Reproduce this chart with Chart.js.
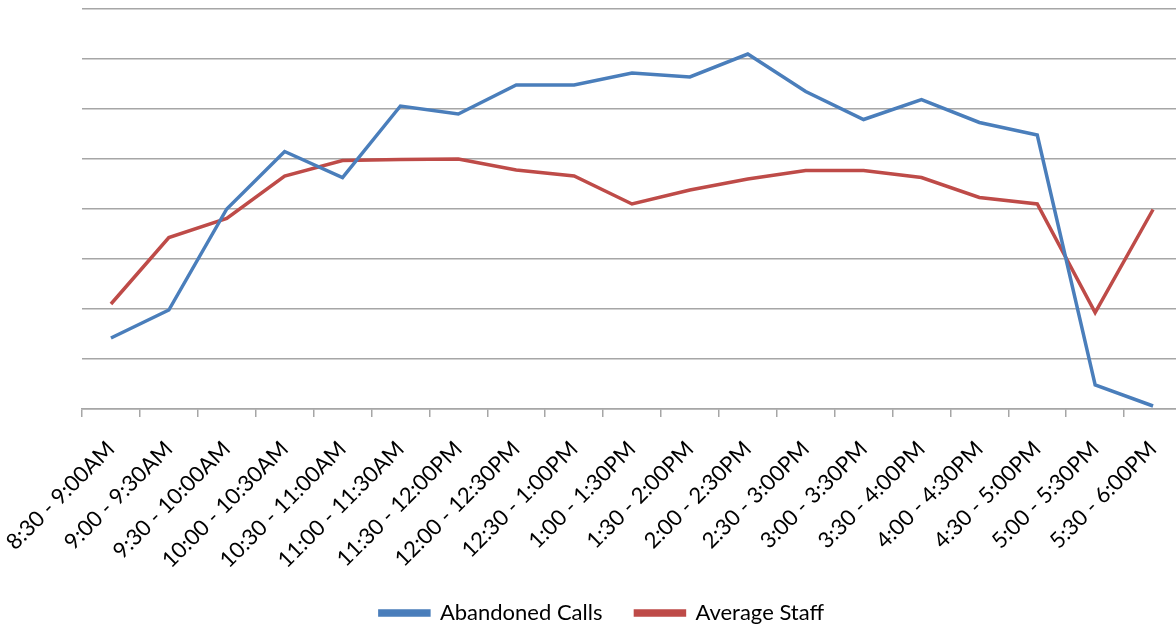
<!DOCTYPE html>
<html>
<head>
<meta charset="utf-8">
<script src="https://cdn.jsdelivr.net/npm/chart.js@4/dist/chart.umd.min.js"></script>
<style>
  html, body { margin: 0; padding: 0; background: #fff; overflow: hidden; }
  #wrap { position: absolute; left: 0; top: 0; width: 1182px; height: 631px; }
</style>
</head>
<body>
<div id="wrap"><canvas id="chart"></canvas></div>
<script>
const timeSlots = [
    '8:30 - 9:00AM', '9:00 - 9:30AM', '9:30 - 10:00AM', '10:00 - 10:30AM',
    '10:30 - 11:00AM', '11:00 - 11:30AM', '11:30 - 12:00PM', '12:00 - 12:30PM',
    '12:30 - 1:00PM', '1:00 - 1:30PM', '1:30 - 2:00PM', '2:00 - 2:30PM',
    '2:30 - 3:00PM', '3:00 - 3:30PM', '3:30 - 4:00PM', '4:00 - 4:30PM',
    '4:30 - 5:00PM', '5:00 - 5:30PM', '5:30 - 6:00PM'
];
const abandonedCalls = [14.2, 19.8, 40, 51.5, 46.3, 60.6, 59, 64.8, 64.8, 67.2,
    66.4, 71, 63.5, 57.9, 61.9, 57.3, 54.8, 4.8, 0.6];
const averageStaff = [21, 34.3, 38.1, 46.6, 49.7, 49.9, 50, 47.8, 46.6, 41,
    43.8, 46, 47.7, 47.7, 46.3, 42.3, 41, 19.3, 39.9];

const gridGray = '#a6a6a6';
const labelFont = { family: 'Lato, "Open Sans", sans-serif', size: 22 };

// legend isn't centred on the canvas in the original, and the long
// rotated labels need more room than the x box gets
const layoutTweaks = {
    id: 'layoutTweaks',
    afterLayout(chart) {
        const lg = chart.legend;
        lg.left += 11; lg.right += 11;
        lg.top += 3; lg.bottom += 3;
        chart.scales.x.bottom += 40;
    }
};

const ctx = document.getElementById('chart').getContext('2d');
const chart = new Chart(ctx, {
    type: 'line',
    data: {
        labels: timeSlots,
        datasets: [{
            label: 'Abandoned Calls',
            data: abandonedCalls,
            borderColor: '#4a7ebb',
            backgroundColor: '#4a7ebb',
            borderWidth: 3.5,
            pointRadius: 0,
            tension: 0
        }, {
            label: 'Average Staff',
            data: averageStaff,
            borderColor: '#be4b48',
            backgroundColor: '#be4b48',
            borderWidth: 3.5,
            pointRadius: 0,
            tension: 0
        }]
    },
    options: {
        responsive: true,
        maintainAspectRatio: false,
        animation: false,
        layout: { padding: { top: 9, right: 0, bottom: 0, left: 0 } },
        plugins: {
            tooltip: { enabled: false },
            legend: {
                position: 'bottom',
                labels: {
                    font: labelFont,
                    color: '#000',
                    boxWidth: 49,
                    boxHeight: 4,
                    padding: 33
                }
            }
        },
        scales: {
            x: {
                offset: true,
                grid: {
                    offset: true,
                    drawOnChartArea: false,
                    color: gridGray,
                    lineWidth: 1.5,
                    tickLength: 8
                },
                border: { color: gridGray, width: 1.5 },
                ticks: {
                    font: labelFont,
                    color: '#000',
                    minRotation: 45,
                    maxRotation: 45,
                    autoSkip: false,
                    padding: 19
                },
                afterFit(scale) {
                    scale.height = 157;
                    scale.paddingLeft = 0;
                    scale.paddingRight = 0;
                }
            },
            y: {
                min: 0,
                max: 80,
                ticks: { display: false, stepSize: 10 },
                grid: { color: gridGray, lineWidth: 1.5, drawTicks: false },
                border: { display: false },
                afterFit(scale) { scale.width = 82; }
            }
        }
    },
    plugins: [layoutTweaks]
});
</script>
</body>
</html>
